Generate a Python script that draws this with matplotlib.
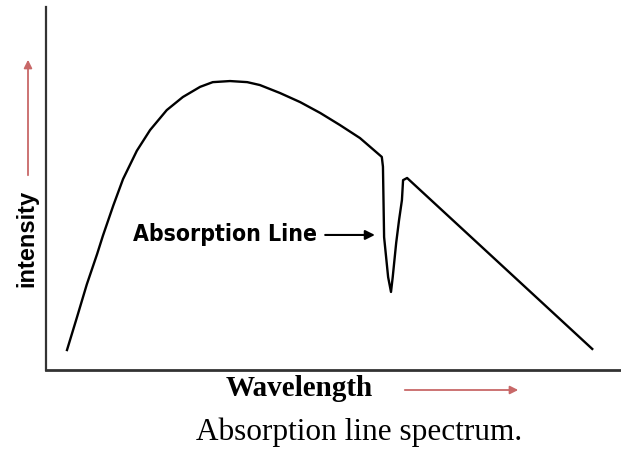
"""Absorption line spectrum sketch."""

import matplotlib
matplotlib.use('Agg')
import matplotlib.pyplot as plt
from matplotlib.patches import FancyArrowPatch

# Curve (wavelength / intensity, arbitrary units 0-100)
wavelength = [3.65, 5.4, 7.1, 8.9, 9.9, 11.7, 13.4, 15.8, 18.1, 21.0, 23.8, 26.8,
              29.0, 32.0, 35.0, 37.2, 40.7, 44.2, 47.7, 51.1, 54.6, 58.4,
              58.6, 58.8, 59.5, 60.0, 60.3, 60.9, 61.4, 61.9, 62.1, 62.8, 95.0]
intensity = [5.5, 14.6, 23.6, 32.0, 37.0, 45.3, 52.6, 60.4, 66.1, 71.6, 75.2, 78.0,
             79.3, 79.6, 79.3, 78.5, 76.3, 73.8, 70.8, 67.5, 63.9, 58.7,
             56.0, 36.6, 25.6, 21.5, 25.6, 35.0, 41.3, 46.8, 52.3, 52.9, 5.8]

line_label = 'Absorption Line'
line_label_pos = (47.1, 37.2)
line_arrow_tip = (57.2, 37.2)

W, H = 621, 451
red = '#c86868'


def fx(px):
    return px / W


def fy(py):
    return 1 - py / H


fig = plt.figure(figsize=(W / 100, H / 100), dpi=100, facecolor='white')
ax = fig.add_axes([fx(46), fy(370), fx(621 - 46), (370 - 7) / H])
ax.set_xlim(0, 100)
ax.set_ylim(0, 100)
for side in ('top', 'right'):
    ax.spines[side].set_visible(False)
ax.spines['left'].set_color('#333333')
ax.spines['left'].set_linewidth(1.6)
ax.spines['bottom'].set_color('#333333')
ax.spines['bottom'].set_linewidth(2.0)
ax.set_xticks([])
ax.set_yticks([])

ax.plot(wavelength, intensity, color='black', lw=1.7, solid_joinstyle='round')

ax.annotate(line_label, xy=line_arrow_tip, xytext=line_label_pos,
            ha='right', va='center', fontsize=16.5, fontweight='bold',
            family='DejaVu Sans', fontstretch='condensed',
            arrowprops=dict(arrowstyle='-|>', color='black', lw=1.5,
                            shrinkA=4, shrinkB=0, mutation_scale=14))

# axis labels with red arrows
fig.text(fx(27), fy(238), 'intensity', rotation=90, ha='center', va='center',
         fontsize=17, fontweight='bold', family='Liberation Sans')
fig.patches.append(FancyArrowPatch(
    (fx(28), fy(178)), (fx(28), fy(57)), transform=fig.transFigure,
    arrowstyle='-|>', color=red, lw=1.3, mutation_scale=12))

fig.text(fx(299), fy(388), 'Wavelength', ha='center', va='center',
         fontsize=21, fontweight='bold', family='Liberation Serif')
fig.patches.append(FancyArrowPatch(
    (fx(402), fy(390)), (fx(521), fy(390)), transform=fig.transFigure,
    arrowstyle='-|>', color=red, lw=1.3, mutation_scale=12))

fig.text(fx(359), fy(432), 'Absorption line spectrum.', ha='center', va='center',
         fontsize=22.5, family='Liberation Serif')

fig.savefig('out.png', dpi=100, facecolor='white')
